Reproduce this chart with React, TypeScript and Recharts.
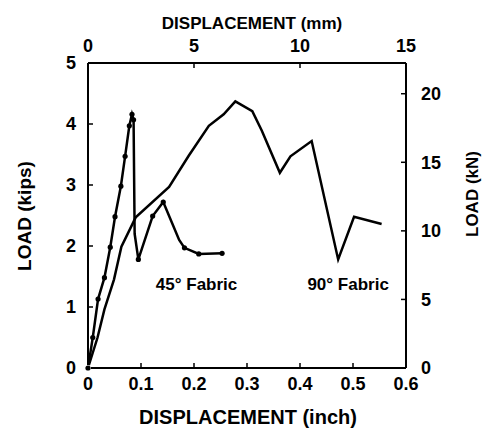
import React from "react";
import {
  LineChart,
  Line,
  XAxis,
  YAxis,
  Label,
  ReferenceDot,
} from "recharts";

// 45 deg fabric: displacement (inch) vs load (kips)
const disp45 = [0, 0.009, 0.019, 0.031, 0.042, 0.051, 0.062, 0.07, 0.078, 0.083, 0.086, 0.088, 0.095, 0.122, 0.142, 0.159, 0.172, 0.182, 0.209, 0.253];
const load45 = [0, 0.5, 1.13, 1.48, 1.98, 2.48, 2.98, 3.47, 3.97, 4.16, 4.07, 2.2, 1.78, 2.49, 2.72, 2.37, 2.1, 1.97, 1.87, 1.88];
// points on the 45 deg curve that carry no marker
const noMarker45 = [11, 15, 16];

// 90 deg fabric
const disp90 = [0, 0.018, 0.031, 0.049, 0.063, 0.09, 0.153, 0.19, 0.228, 0.256, 0.278, 0.31, 0.328, 0.362, 0.382, 0.422, 0.472, 0.502, 0.554];
const load90 = [0, 0.5, 0.96, 1.45, 1.99, 2.47, 2.97, 3.48, 3.97, 4.16, 4.37, 4.21, 3.89, 3.2, 3.47, 3.72, 1.78, 2.48, 2.36];

const inchTicks = [0, 0.1, 0.2, 0.3, 0.4, 0.5, 0.6];
const mmTicks = [0, 5, 10, 15];
const kipTicks = [0, 1, 2, 3, 4, 5];
const kNTicks = [0, 5, 10, 15, 20];

const FONT = "'Liberation Sans', Arial, sans-serif";
const tickStyle = { fill: "#000", fontSize: 18, fontWeight: 700, fontFamily: FONT };

const data45 = disp45.map((x, i) => ({ x, load: load45[i] }));
const data90 = disp90.map((x, i) => ({ x, load: load90[i] }));
// only used so the secondary (mm / kN) axes get drawn
const secondaryAxisData = [{ mm: mmTicks[0], kN: kNTicks[0] }];

const title = (text: string, x: number, y: number, size: number, rotate = false) => () => (
  <text
    x={x}
    y={y}
    textAnchor="middle"
    dominantBaseline="central"
    transform={rotate ? `rotate(-90 ${x} ${y})` : undefined}
    style={{ fontFamily: FONT, fontWeight: 700, fontSize: size, fill: "#000" }}
  >
    {text}
  </text>
);

const fabricLabel = (text: string) => (props: any) => {
  const { viewBox } = props;
  return (
    <text
      x={viewBox.x}
      y={viewBox.y}
      dominantBaseline="central"
      style={{ fontFamily: FONT, fontWeight: 700, fontSize: 17, fill: "#000" }}
    >
      {text}
    </text>
  );
};

const Dot = (props: any) => {
  const { cx, cy, index } = props;
  if (noMarker45.includes(index)) return <g key={index} />;
  return <circle key={index} cx={cx} cy={cy} r={2.6} fill="#000" />;
};

const axisLine = { stroke: "#000", strokeWidth: 2 };
const tickLine = { stroke: "#000", strokeWidth: 1.5 };

export default function App() {
  return (
    <div style={{ position: "absolute", left: 0, top: 0, background: "#fff" }}>
      <LineChart width={482} height={429} margin={{ top: 0, right: 0, bottom: 0, left: 0 }}>
        <XAxis
          xAxisId="in"
          type="number"
          dataKey="x"
          domain={[0, 0.6]}
          ticks={inchTicks}
          orientation="bottom"
          height={61}
          axisLine={axisLine}
          tickLine={tickLine}
          tickSize={-5}
          tickMargin={14}
          tick={tickStyle}
          interval={0}
        >
          <Label content={title("DISPLACEMENT (inch)", 248, 417, 20)} />
        </XAxis>
        <XAxis
          xAxisId="mm"
          type="number"
          dataKey="mm"
          domain={[0, 15]}
          ticks={mmTicks}
          orientation="top"
          height={63}
          axisLine={axisLine}
          tickLine={tickLine}
          tickSize={-5}
          tickMargin={16}
          tick={tickStyle}
          interval={0}
        >
          <Label content={title("DISPLACEMENT (mm)", 252, 23, 17)} />
        </XAxis>
        <YAxis
          yAxisId="kips"
          type="number"
          domain={[0, 5]}
          ticks={kipTicks}
          orientation="left"
          width={88}
          axisLine={axisLine}
          tickLine={tickLine}
          tickSize={-5}
          tickMargin={17}
          tick={tickStyle}
          interval={0}
        >
          <Label content={title("LOAD (kips)", 24, 216, 19, true)} />
        </YAxis>
        <YAxis
          yAxisId="kN"
          type="number"
          dataKey="kN"
          domain={[0, 22.24]}
          ticks={kNTicks}
          orientation="right"
          width={76}
          axisLine={axisLine}
          tickLine={tickLine}
          tickSize={-5}
          tickMargin={20}
          tick={{ ...tickStyle, textAnchor: "start" }}
          interval={0}
        >
          <Label content={title("LOAD (kN)", 472, 194, 17, true)} />
        </YAxis>
        <Line
          xAxisId="mm"
          yAxisId="kN"
          data={secondaryAxisData}
          dataKey="kN"
          stroke="none"
          dot={false}
          activeDot={false}
          isAnimationActive={false}
        />
        <Line
          xAxisId="in"
          yAxisId="kips"
          data={data90}
          dataKey="load"
          type="linear"
          stroke="#000"
          strokeWidth={2.5}
          dot={false}
          activeDot={false}
          isAnimationActive={false}
        />
        <Line
          xAxisId="in"
          yAxisId="kips"
          data={data45}
          dataKey="load"
          type="linear"
          stroke="#000"
          strokeWidth={2.5}
          dot={<Dot />}
          activeDot={false}
          isAnimationActive={false}
        />
        <ReferenceDot
          xAxisId="in"
          yAxisId="kips"
          x={0.128}
          y={1.37}
          r={0}
          label={{ content: fabricLabel("45° Fabric") }}
        />
        <ReferenceDot
          xAxisId="in"
          yAxisId="kips"
          x={0.414}
          y={1.37}
          r={0}
          label={{ content: fabricLabel("90° Fabric") }}
        />
      </LineChart>
    </div>
  );
}
